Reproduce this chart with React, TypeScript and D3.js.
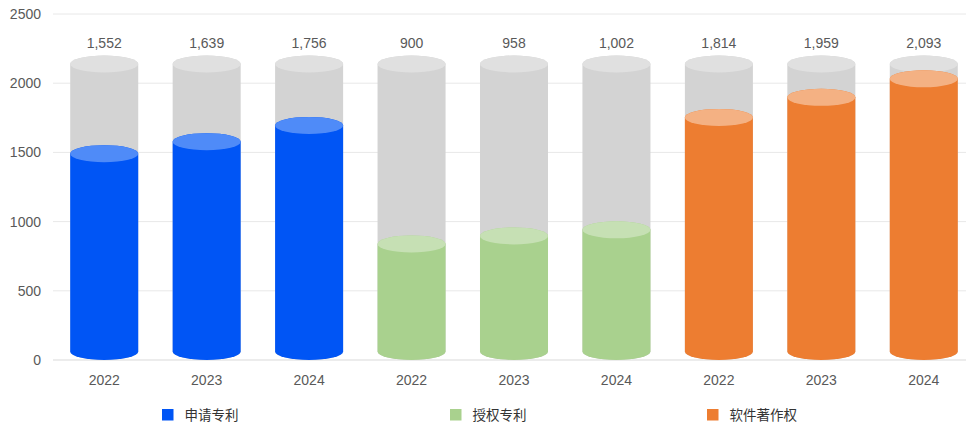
import React from "react";
import * as d3 from "d3";

const years = ["2022", "2023", "2024"];
const seriesNames = ["申请专利", "授权专利", "软件著作权"];
const appliedPatents = [1552, 1639, 1756];
const grantedPatents = [900, 958, 1002];
const softwareCopyrights = [1814, 1959, 2093];
const yTicks = [0, 500, 1000, 1500, 2000, 2500];
const backgroundMax = 2200;

const colors = ["#0055f5", "#a9d18e", "#ed7d31"];
const topColors = ["#4f8bf8", "#c6e0b4", "#f4b183"];

const W = 966;
const H = 425;

export default function App() {
  const seriesValues = [appliedPatents, grantedPatents, softwareCopyrights];
  const rows = seriesValues.flatMap((vals, s) =>
    vals.map((v, i) => ({ key: `${s}-${i}`, s, year: years[i], value: v }))
  );
  const x = d3.scaleBand<string>().domain(rows.map((r) => r.key)).range([53, 975]).paddingInner(0.336).paddingOuter(0.168);
  const y = d3.scaleLinear().domain([0, 2500]).range([360, 14]);
  const ry = 8.5;
  const bw = x.bandwidth();
  const fmt = d3.format(",");
  const font = "'Liberation Sans', 'Noto Sans CJK SC', sans-serif";

  const cyl = (cx: number, top: number, bottom: number) => {
    const l = cx - bw / 2;
    const r = cx + bw / 2;
    return `M${l},${top} L${l},${bottom} A${bw / 2},${ry} 0 0 0 ${r},${bottom} L${r},${top} A${bw / 2},${ry} 0 0 0 ${l},${top} Z`;
  };

  const legendX = [162, 450, 707];

  return (
    <svg width={W} height={H} style={{ position: "absolute", left: 0, top: 0, background: "#fff" }} fontFamily={font}>
      {yTicks.map((t) => (
        <g key={t}>
          <line x1={53} x2={W} y1={y(t)} y2={y(t)} stroke={t === 0 ? "#d9d9d9" : "#e8e8e8"} strokeWidth={1} />
          <text x={41} y={y(t) + 5} textAnchor="end" fontSize={14} fill="#595959">{t}</text>
        </g>
      ))}
      {rows.map((r) => {
        const cx = (x(r.key) as number) + bw / 2;
        const bottom = y(0) - ry;
        const gTop = y(backgroundMax) + ry;
        const vTop = y(r.value) + ry;
        return (
          <g key={r.key}>
            <path d={cyl(cx, gTop, bottom)} fill="#d3d3d3" />
            <ellipse cx={cx} cy={gTop} rx={bw / 2} ry={ry} fill="#e0e0e0" />
            <path d={cyl(cx, vTop, bottom)} fill={colors[r.s]} />
            <ellipse cx={cx} cy={vTop} rx={bw / 2} ry={ry} fill={topColors[r.s]} />
            <text x={cx} y={48} textAnchor="middle" fontSize={14} fill="#595959">{fmt(r.value)}</text>
            <text x={cx} y={385} textAnchor="middle" fontSize={14} fill="#595959">{r.year}</text>
          </g>
        );
      })}
      {seriesNames.map((name, s) => (
        <g key={name} transform={`translate(${legendX[s]},409)`}>
          <rect x={0} y={0} width={11.5} height={11.5} fill={colors[s]} />
          <text x={22.5} y={11} fontSize={13.5} fill="#333">{name}</text>
        </g>
      ))}
    </svg>
  );
}
